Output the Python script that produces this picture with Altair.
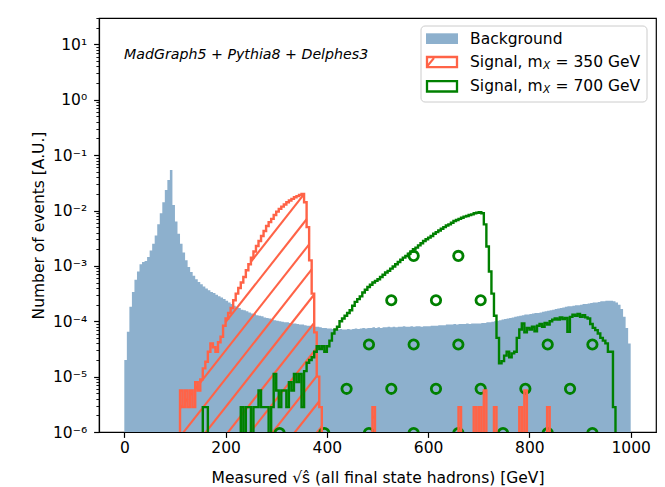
import altair as alt
import numpy as np
import pandas as pd

# ---------------- data (log10 of normalised counts, 5 GeV bins) ----------------
BIN_W = 5
# background, bins 0..995 GeV (left edges), one row per 100 GeV
bg_log10 = [
    -4.70, -4.19, -3.74, -3.47, -3.25, -3.10, -2.97, -2.93, -2.91, -2.84, -2.72, -2.60, -2.45, -2.25, -2.05, -1.85, -1.63, -1.45, -1.27, -1.90,
    -2.20, -2.42, -2.60, -2.76, -2.90, -3.02, -3.11, -3.18, -3.24, -3.29, -3.33, -3.37, -3.41, -3.44, -3.47, -3.49, -3.52, -3.55, -3.57, -3.60,
    -3.63, -3.66, -3.69, -3.72, -3.74, -3.76, -3.79, -3.80, -3.82, -3.84, -3.86, -3.87, -3.89, -3.90, -3.91, -3.93, -3.94, -3.95, -3.97, -3.98,
    -3.99, -4.00, -4.01, -4.02, -4.02, -4.03, -4.04, -4.04, -4.05, -4.06, -4.06, -4.07, -4.08, -4.08, -4.09, -4.10, -4.10, -4.11, -4.12, -4.12,
    -4.13, -4.13, -4.14, -4.14, -4.15, -4.14, -4.15, -4.15, -4.14, -4.15, -4.14, -4.13, -4.14, -4.13, -4.12, -4.13, -4.12, -4.12, -4.11, -4.12,
    -4.11, -4.12, -4.11, -4.11, -4.10, -4.11, -4.10, -4.11, -4.10, -4.10, -4.09, -4.10, -4.10, -4.09, -4.10, -4.09, -4.09, -4.10, -4.09, -4.09,
    -4.09, -4.08, -4.08, -4.08, -4.07, -4.07, -4.07, -4.06, -4.06, -4.06, -4.05, -4.06, -4.05, -4.05, -4.05, -4.04, -4.05, -4.04, -4.04, -4.04,
    -4.04, -4.03, -4.03, -4.02, -4.02, -4.01, -4.00, -3.99, -3.98, -3.97, -3.96, -3.95, -3.94, -3.93, -3.92, -3.91, -3.90, -3.89, -3.88, -3.88,
    -3.87, -3.86, -3.85, -3.85, -3.84, -3.83, -3.82, -3.81, -3.80, -3.79, -3.78, -3.77, -3.76, -3.75, -3.74, -3.73, -3.73, -3.72, -3.71, -3.71,
    -3.70, -3.69, -3.69, -3.68, -3.67, -3.66, -3.66, -3.65, -3.64, -3.64, -3.63, -3.63, -3.63, -3.64, -3.66, -3.70, -3.78, -3.92, -4.12, -4.40,
]

# signal m_X = 350 GeV, bins 100..395 GeV (None = empty bin)
sig350_start = 100
sig350_log10 = [
    None, None, -5.25, -5.55, -5.25, -5.55, -5.25, -5.55, -5.10, -5.25, -5.05, -4.85, -4.73, -4.55, -4.40, -4.47, -4.55, -4.38, -4.28, -4.08,
    -3.95, -3.85, -3.76, -3.62, -3.50, -3.40, -3.30, -3.20, -3.08, -2.97, -2.85, -2.74, -2.64, -2.55, -2.46, -2.37, -2.28, -2.21, -2.15, -2.08,
    -2.02, -1.97, -1.93, -1.89, -1.85, -1.82, -1.79, -1.76, -1.74, -1.72, -1.70, -1.85, -2.30, -2.90, -3.50, -4.20, -5.00, -5.55, None, None,
]
# isolated signal events at high mass (bin left edge, log10 height)
sig350_tail_x = [490, 660, 690, 700, 710, 730, 780, 790, 835]
sig350_tail_log10 = [-5.55, -5.55, -5.55, -5.55, -5.25, -5.55, -5.55, -5.25, -5.55]

# signal m_X = 700 GeV, bins 100..995 GeV
sig700_start = 100
sig700_log10 = [
    None, None, None, None, None, None, None, None, None, None, None, -5.55, -5.55, None, None, None, None, None, None, None,
    None, None, None, None, None, None, -5.55, None, -5.55, -5.55, None, -5.55, -5.55, -5.25, -5.55, -5.55, -5.55, None, -5.55, -4.95,
    -5.25, -5.55, -5.25, -5.25, -5.55, -5.10, -5.25, -4.95, -5.10, -4.95, -5.55, -4.90, -4.75, -4.70, -4.65, -4.55, -4.45, -4.50, -4.45, -4.55,
    -4.45, -4.35, -4.22, -4.15, -4.10, -4.00, -3.95, -3.90, -3.85, -3.80, -3.72, -3.65, -3.60, -3.55, -3.48, -3.43, -3.38, -3.34, -3.30, -3.27,
    -3.24, -3.20, -3.16, -3.12, -3.09, -3.05, -3.01, -2.97, -2.93, -2.89, -2.85, -2.82, -2.78, -2.74, -2.70, -2.67, -2.63, -2.59, -2.55, -2.52,
    -2.49, -2.46, -2.42, -2.39, -2.36, -2.33, -2.30, -2.27, -2.25, -2.22, -2.19, -2.17, -2.15, -2.13, -2.11, -2.10, -2.08, -2.07, -2.05, -2.04,
    -2.03, -2.05, -2.25, -2.65, -3.10, -3.50, -3.90, -4.30, -4.76, -4.72, -4.62, -4.55, -4.65, -4.58, -4.55, -4.30, -4.15, -4.04, -4.20, -4.12,
    -4.15, -4.10, -4.18, -4.08, -4.05, -4.10, -4.03, -4.06, -4.00, -3.97, -3.95, -3.97, -3.93, -3.96, -3.94, -4.19, -3.92, -3.88, -3.90, -3.87,
    -3.92, -3.89, -3.93, -3.95, -4.05, -4.12, -4.16, -4.22, -4.30, -4.35, -4.40, -4.55, -4.55, -5.55, None, None, None, None, None, None,
]

legend_labels = ["Background", "Signal, m", "Signal, m"]
legend_suffix = ["", "= 350 GeV", "= 700 GeV"]
x_ticks = [0, 200, 400, 600, 800, 1000]

# ---------------- styling ----------------
W, H = 557, 414
FONT = "DejaVu Sans"
FS = 15.5
BG_COLOR = "#8db0cd"
RED = "#ff6347"
GREEN = "#008000"
LOG_FLOOR = -7.0

edges = np.arange(0, 1000 + BIN_W, BIN_W)
nb = len(edges) - 1


def full(start, vals):
    out = [None] * nb
    i0 = start // BIN_W
    for j, v in enumerate(vals):
        out[i0 + j] = v
    return out


sig350 = full(sig350_start, sig350_log10)
for xx, vv in zip(sig350_tail_x, sig350_tail_log10):
    sig350[xx // BIN_W] = vv
sig700 = full(sig700_start, sig700_log10)


def outline(vals):
    idx = [i for i, v in enumerate(vals) if v is not None]
    i0, i1 = idx[0], idx[-1]
    pts = [(edges[i0], LOG_FLOOR)]
    for i in range(i0, i1 + 1):
        v = vals[i] if vals[i] is not None else LOG_FLOOR
        pts.append((edges[i], v))
        pts.append((edges[i + 1], v))
    pts.append((edges[i1 + 1], LOG_FLOOR))
    return pd.DataFrame({"x": [float(p[0]) for p in pts],
                         "y": [10 ** p[1] for p in pts],
                         "o": range(len(pts))})


# background area (step-after: repeat last value at right edge)
bg_df = pd.DataFrame({"x": [float(e) for e in edges],
                      "y": [10 ** v for v in bg_log10] + [10 ** bg_log10[-1]],
                      "base": [10 ** LOG_FLOOR] * (nb + 1)})

# hatch lines for the 350 GeV histogram (straight in screen space -> log-linear in data)
H_SLOPE = 0.01162   # decades per GeV
H_STEP = 0.511      # decades between hatch lines
H_C0 = -6.341
H_BOTTOM = -6.05
segs = []
for k in range(-10, 20):
    base = H_C0 + H_STEP * k
    cur = None
    for i, v in enumerate(sig350):
        if v is None:
            if cur:
                segs.append(cur)
            cur = None
            continue
        a, b = edges[i], edges[i + 1]
        lo = max(a, (H_BOTTOM - base) / H_SLOPE)
        hi = min(b, (v - base) / H_SLOPE)
        if lo < hi:
            if cur and abs(cur[1] - lo) < 1e-9:
                cur[1] = hi
            else:
                if cur:
                    segs.append(cur)
                cur = [lo, hi, base]
        else:
            if cur:
                segs.append(cur)
            cur = None
    if cur:
        segs.append(cur)
hatch_df = pd.DataFrame({
    "x": [float(s[0]) for s in segs], "x2": [float(s[1]) for s in segs],
    "y": [10 ** (s[2] + H_SLOPE * s[0]) for s in segs],
    "y2": [10 ** (s[2] + H_SLOPE * s[1]) for s in segs],
})

# circle hatch for the 700 GeV histogram
C_DX = 88.25
C_DY = 0.80
circ = []
for r in range(0, 8):
    ly = -6.02 + C_DY * r
    phase = 394.9 if r % 2 == 0 else 439.0
    for n in range(-6, 8):
        cx = phase + C_DX * n
        if cx < 0 or cx >= 1000:
            continue
        v = sig700[int(cx // BIN_W)]
        if v is not None and ly <= v:
            circ.append((cx, 10 ** ly))
circ_df = pd.DataFrame({"x": [c[0] for c in circ], "y": [c[1] for c in circ]})

xs = alt.Scale(domain=[-50, 1050], nice=False, zero=False)
ys = alt.Scale(type="log", domain=[1e-6, 30], nice=False)

major_test = "abs(log(datum.value)/LN10 - round(log(datum.value)/LN10)) < 0.001"
y_vals = []
for e in range(-6, 2):
    for m in range(1, 10):
        val = m * 10.0 ** e
        if val <= 30:
            y_vals.append(val)

y_axis = alt.Axis(
    title="Number of events [A.U.]", values=y_vals,
    labelExpr=major_test + " ? ['10⁻⁶','10⁻⁵','10⁻⁴','10⁻³','10⁻²','10⁻¹','10⁰','10¹'][round(log(datum.value)/LN10)+6] : ''",
    tickSize={"condition": {"test": major_test, "value": 5.4}, "value": 3.1},
    tickWidth={"condition": {"test": major_test, "value": 1.2}, "value": 0.9},
    labelOverlap=False, grid=False, domain=True, domainColor="black", domainWidth=1.2,
    tickColor="black", labelColor="black", titleColor="black", labelFontSize=FS,
    titleFontSize=FS, titleFontWeight="normal", labelPadding=7, titlePadding=6,
    labelFont=FONT, titleFont=FONT, zindex=1,
)
x_axis = alt.Axis(
    title="Measured √ŝ (all final state hadrons) [GeV]", values=x_ticks, format="d",
    tickSize=5.4, tickWidth=1.2, grid=False, domain=True, domainColor="black",
    domainWidth=1.2, tickColor="black", labelColor="black", titleColor="black",
    labelFontSize=FS, titleFontSize=FS, titleFontWeight="normal", labelPadding=3,
    titlePadding=15, labelFont=FONT, titleFont=FONT, zindex=1, labelFlush=False,
)

bg = alt.Chart(bg_df).mark_area(interpolate="step-after", color=BG_COLOR, clip=True).encode(
    x=alt.X("x:Q", scale=xs, axis=x_axis),
    y=alt.Y("y:Q", scale=ys, axis=y_axis, stack=None),
    y2="base:Q",
)

hatch = alt.Chart(hatch_df).mark_rule(color=RED, strokeWidth=2.1, clip=True).encode(
    x=alt.X("x:Q", scale=xs), x2="x2:Q",
    y=alt.Y("y:Q", scale=ys), y2="y2:Q",
)

circles = alt.Chart(circ_df).mark_point(shape="circle", filled=False, size=88, strokeWidth=2.8,
                                         color=GREEN, opacity=1, clip=True).encode(
    x=alt.X("x:Q", scale=xs),
    y=alt.Y("y:Q", scale=ys),
)


def step_line(vals, color):
    return alt.Chart(outline(vals)).mark_line(color=color, strokeWidth=2.4, clip=True,
                                              strokeJoin="miter").encode(
        x=alt.X("x:Q", scale=xs),
        y=alt.Y("y:Q", scale=ys),
        order="o:Q",
    )


red_line = step_line(sig350, RED)
green_line = step_line(sig700, GREEN)

one = pd.DataFrame({"a": [0]})
OX, OY = 99, 18  # plot origin in page pixels


def px(v):
    return alt.value(v - OX)


def py(v):
    return alt.value(v - OY)


legend_box = alt.Chart(one).mark_rect(fill="white", fillOpacity=0.8, stroke="#cccccc",
                                      strokeWidth=1, cornerRadius=4).encode(
    x=px(421), x2=px(647), y=py(26), y2=py(102))
leg_bg = alt.Chart(one).mark_rect(fill=BG_COLOR).encode(x=px(426), x2=px(458), y=py(33.3), y2=py(44))
leg_red = alt.Chart(one).mark_rect(fill="white", fillOpacity=0, stroke=RED, strokeWidth=2.3,
                                   strokeJoin="miter").encode(x=px(427), x2=px(457), y=py(57), y2=py(67.2))
leg_red_h = alt.Chart(one).mark_rule(color=RED, strokeWidth=2.0).encode(
    x=px(427), x2=px(434), y=py(66.5), y2=py(58))
leg_green = alt.Chart(one).mark_rect(fill="white", fillOpacity=0, stroke=GREEN, strokeWidth=2.3,
                                     strokeJoin="miter").encode(x=px(427), x2=px(457), y=py(81.2), y2=py(91.5))

texts = []
ys_leg = [38.7, 62.0, 86.3]
for lab, suf, yy in zip(legend_labels, legend_suffix, ys_leg):
    texts.append(alt.Chart(one).mark_text(text=lab, align="left", baseline="middle", font=FONT,
                                          fontSize=FS, color="black").encode(x=px(470), y=py(yy)))
    if suf:
        texts.append(alt.Chart(one).mark_text(text="X", align="left", baseline="middle", font=FONT,
                                              fontSize=10.5, fontStyle="italic", color="black").encode(
            x=px(543), y=py(yy + 3.5)))
        texts.append(alt.Chart(one).mark_text(text=suf, align="left", baseline="middle", font=FONT,
                                              fontSize=FS, color="black").encode(x=px(555.5), y=py(yy)))

annot = alt.Chart(one).mark_text(text="MadGraph5 + Pythia8 + Delphes3", align="left", baseline="middle",
                                 font=FONT, fontSize=14.2, fontStyle="italic", color="black").encode(
    x=px(124), y=py(55))

chart = alt.layer(
    bg, hatch, circles, red_line, green_line, annot,
    legend_box, leg_bg, leg_red, leg_red_h, leg_green, *texts,
).properties(
    width=W, height=H,
    padding={"left": OX, "top": OY, "right": 665 - OX - W, "bottom": 487 - OY - H},
    autosize=alt.AutoSizeParams(type="none"),
).configure(font=FONT).configure_view(stroke="black", strokeWidth=1.2)

chart.save("out.html", embed_options={"renderer": "svg", "actions": False})
